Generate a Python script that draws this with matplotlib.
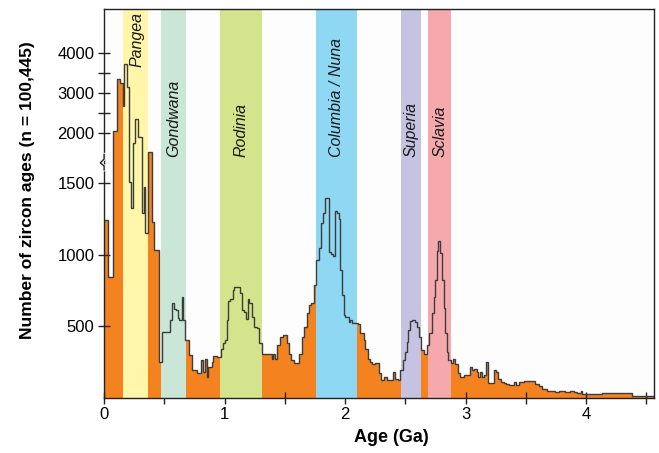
import numpy as np
import matplotlib
matplotlib.use("Agg")
import matplotlib.pyplot as plt
from matplotlib.lines import Line2D
import matplotlib.transforms as mtransforms

plt.rcParams['font.family'] = ['Liberation Sans', 'DejaVu Sans']

# ---- data: histogram steps (left edge of each step in Ga, and zircon count) ----
step_left_ga = [
    0.000, 0.036, 0.072, 0.110, 0.133, 0.155, 0.169, 0.188, 0.207, 0.224,
    0.240, 0.260, 0.280, 0.313, 0.327, 0.340, 0.365, 0.396, 0.415, 0.459,
    0.479, 0.548, 0.567, 0.581, 0.598, 0.610, 0.620, 0.642, 0.658, 0.670,
    0.705, 0.727, 0.769, 0.802, 0.819, 0.833, 0.852, 0.866, 0.894, 0.907,
    0.940, 0.968, 0.990, 1.003, 1.017, 1.030, 1.045, 1.067, 1.078, 1.128,
    1.141, 1.161, 1.178, 1.192, 1.206, 1.225, 1.247, 1.267, 1.286, 1.308,
    1.390, 1.404, 1.418, 1.438, 1.460, 1.483, 1.516, 1.530, 1.550, 1.572,
    1.621, 1.641, 1.660, 1.682, 1.696, 1.715, 1.738, 1.760, 1.780, 1.800,
    1.812, 1.829, 1.868, 1.881, 1.895, 1.912, 1.931, 1.945, 1.959, 1.973,
    1.987, 2.000, 2.028, 2.042, 2.056, 2.103, 2.125, 2.153, 2.166, 2.186,
    2.202, 2.222, 2.250, 2.277, 2.296, 2.324, 2.346, 2.374, 2.396, 2.415,
    2.435, 2.456, 2.478, 2.498, 2.511, 2.525, 2.539, 2.553, 2.580, 2.600,
    2.616, 2.630, 2.650, 2.677, 2.697, 2.719, 2.733, 2.746, 2.760, 2.774,
    2.788, 2.802, 2.816, 2.830, 2.843, 2.857, 2.877, 2.893, 2.912, 2.932,
    2.954, 2.982, 3.037, 3.051, 3.070, 3.092, 3.106, 3.120, 3.134, 3.148,
    3.170, 3.189, 3.236, 3.250, 3.272, 3.291, 3.314, 3.336, 3.363, 3.397,
    3.419, 3.446, 3.480, 3.577, 3.604, 3.632, 3.673, 3.742, 3.770, 3.825,
    3.867, 3.895, 3.922, 3.955, 3.969, 4.033, 4.130, 4.177, 4.282, 4.310,
    4.379,
]
zircon_counts = [
    1240, 845, 2057, 3340, 3240, 2677, 3717, 3140, 1507, 1324,
    1877, 2347, 1958, 1289, 1473, 1148, 1765, 1229, 1031, 253,
    462, 548, 660, 618, 613, 556, 548, 702, 544, 404,
    300, 195, 172, 265, 183, 276, 148, 218, 253, 295,
    288, 346, 381, 404, 544, 678, 694, 753, 776, 730,
    613, 601, 555, 694, 660, 566, 493, 488, 381, 311,
    270, 311, 270, 369, 427, 439, 381, 311, 265, 246,
    311, 427, 497, 590, 648, 665, 791, 965, 1046, 1217,
    1287, 1392, 1019, 1003, 990, 1305, 1287, 1247, 892, 718,
    578, 567, 532, 544, 525, 520, 451, 404, 346, 276,
    253, 241, 246, 176, 125, 148, 130, 125, 183, 137,
    125, 195, 265, 323, 392, 474, 539, 544, 532, 497,
    427, 334, 311, 369, 451, 590, 706, 822, 1022, 1092,
    1011, 822, 625, 451, 323, 265, 246, 276, 241, 172,
    148, 160, 218, 195, 206, 183, 148, 183, 148, 160,
    253, 107, 195, 183, 137, 113, 107, 98, 91, 113,
    91, 113, 118, 102, 84, 67, 49, 44, 51, 44,
    49, 40, 33, 49, 28, 26, 35, 33, 37, 33,
    16,
]
age_max = 4.56

# supercontinent bands
band_names = ['Pangea', 'Gondwana', 'Rodinia', 'Columbia / Nuna', 'Superia', 'Sclavia']
band_start = [0.155, 0.473, 0.965, 1.760, 2.467, 2.686]
band_end = [0.365, 0.683, 1.309, 2.100, 2.628, 2.880]
band_colors = ['#FFF6AA', '#C9E6D6', '#D4E48C', '#8ED8F3', '#C6C2E1', '#F5A9AC']

# axis ticks
y_ticks = [500, 1000, 1500, 2000, 2500, 3000, 3500, 4000]
y_ticklabels = ['500', '1000', '1500', '2000', '', '3000', '', '4000']
x_ticks = [0, 0.5, 1, 1.5, 2, 2.5, 3, 3.5, 4, 4.5]
x_ticklabels = ['0', '', '1', '', '2', '', '3', '', '4', '']

# ---- broken (piecewise-linear) y scale ----
knot_v = np.array([0.0, 1650.0, 2000.0, 4000.0, 5100.0])
knot_t = np.array([0.0, 236.8, 264.7, 345.3, 389.6])


def fwd(v):
    return np.interp(v, knot_v, knot_t)


def inv(t):
    return np.interp(t, knot_t, knot_v)


fig = plt.figure(figsize=(6.59, 4.53), dpi=100)
ax = fig.add_axes([0.158, 0.121, 0.834, 0.859])
ax.set_facecolor('#FDFDFD')
ax.set_yscale('function', functions=(fwd, inv))

edges = np.array(step_left_ga + [age_max])
counts = np.array(zircon_counts)

ax.stairs(counts, edges, fill=True, color='#F4821F', zorder=1, baseline=0)
for s, e, c in zip(band_start, band_end, band_colors):
    ax.axvspan(s, e, color=c, zorder=2, lw=0)
ax.stairs(counts, edges, fill=False, color='#3C3C3C', lw=1.0, zorder=3, baseline=None)

ax.set_xlim(0, age_max)
ax.set_ylim(0, 5084)

trans = mtransforms.blended_transform_factory(ax.transData, ax.transAxes)
for name, s, e in zip(band_names, band_start, band_end):
    xc = (s + e) / 2
    if name == 'Pangea':
        ax.text(xc + 0.01, 0.992, name, rotation=90, ha='center', va='top',
                style='italic', fontsize=11.5, color='#1A1A1A', transform=trans, zorder=4)
    else:
        ax.text(xc, 0.62, name, rotation=90, ha='center', va='bottom',
                style='italic', fontsize=11.5, color='#1A1A1A', transform=trans, zorder=4)

ax.set_yticks(y_ticks)
ax.set_yticklabels(y_ticklabels)
ax.set_xticks(x_ticks)
ax.set_xticklabels(x_ticklabels)
ax.tick_params(direction='inout', length=8, width=1, labelsize=12, color='#222222')
ax.tick_params(axis='y', pad=3)
ax.tick_params(axis='x', pad=2)

for sp in ax.spines.values():
    sp.set_linewidth(1.0)
    sp.set_color('#222222')
    sp.set_zorder(5)

ax.set_xlabel('Age (Ga)', fontsize=13, fontweight='bold')
ax.set_ylabel('Number of zircon ages (n = 100,445)', fontsize=12.5, fontweight='bold')
ax.xaxis.set_label_coords(0.522, -0.08)
ax.yaxis.set_label_coords(-0.126, 0.535)

# axis break marker on left spine
yb = (398 - 162) / 389.0
ax.add_line(Line2D([0, 0, -0.007, 0.0, 0], [yb + 0.02, yb + 0.008, yb - 0.002, yb - 0.01, yb - 0.02],
                   transform=ax.transAxes, color='#FDFDFD', lw=2.2, clip_on=False, zorder=6))
ax.add_line(Line2D([0, 0, -0.007, 0.0, 0], [yb + 0.02, yb + 0.008, yb - 0.002, yb - 0.01, yb - 0.02],
                   transform=ax.transAxes, color='#222222', lw=1.0, clip_on=False, zorder=7))

fig.savefig('out.png', dpi=100, facecolor='white')
